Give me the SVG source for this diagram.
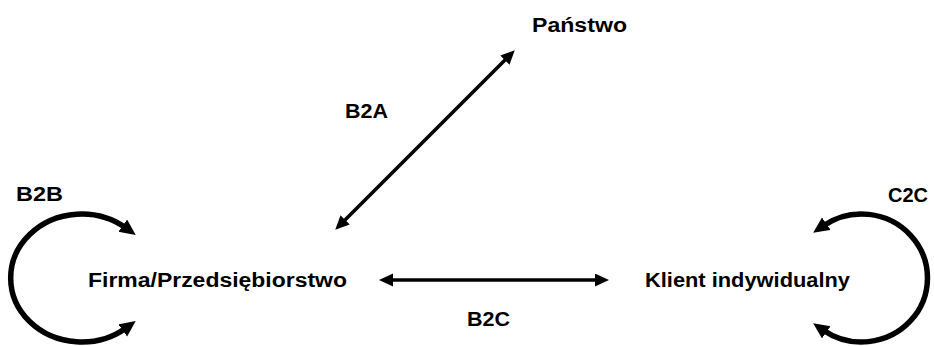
<svg xmlns="http://www.w3.org/2000/svg" width="934" height="346" viewBox="0 0 934 346">
<defs>
<style>
text{font-family:"Liberation Sans",Arial,sans-serif;font-weight:bold;font-size:19.5px;fill:#000}
.c{fill:none;stroke:#000;stroke-width:3.5;marker-start:url(#ah);marker-end:url(#ah)}
.l{fill:none;stroke:#000;stroke-width:5.5;marker-start:url(#ah2);marker-end:url(#ah2)}
</style>
<marker id="ah" markerUnits="userSpaceOnUse" markerWidth="16" markerHeight="14" refX="3" refY="6.5" orient="auto-start-reverse"><path d="M0,0 L14,6.5 L0,13 z" fill="#000"/></marker>
<marker id="ah2" markerUnits="userSpaceOnUse" markerWidth="18" markerHeight="16" refX="4" refY="7.5" orient="auto-start-reverse"><path d="M0,0 L16,7.5 L0,15 z" fill="#000"/></marker>
</defs>
<g id="connectors">
<path id="b2a" class="c" d="M343,222 L507,58"/>
<path id="b2c" class="c" d="M390,280 L598,280"/>
<path id="b2b" class="l" d="M126,328 A71,64 0 1 1 126,228"/>
<path id="c2c" class="l" d="M823,226 A66,64 0 1 1 823,330"/>
</g>
<g id="panstwo"><text x="532" y="32" textLength="95" lengthAdjust="spacingAndGlyphs">Państwo</text></g>
<g id="firma"><text x="88" y="287" textLength="259" lengthAdjust="spacingAndGlyphs">Firma/Przedsiębiorstwo</text></g>
<g id="klient"><text x="645" y="287" textLength="205" lengthAdjust="spacingAndGlyphs">Klient indywidualny</text></g>
<g id="labels">
<text x="345" y="118" textLength="43" lengthAdjust="spacingAndGlyphs">B2A</text>
<text x="16" y="201" textLength="47" lengthAdjust="spacingAndGlyphs">B2B</text>
<text x="888" y="202" textLength="40" lengthAdjust="spacingAndGlyphs">C2C</text>
<text x="467" y="326" textLength="43" lengthAdjust="spacingAndGlyphs">B2C</text>
</g>
</svg>
